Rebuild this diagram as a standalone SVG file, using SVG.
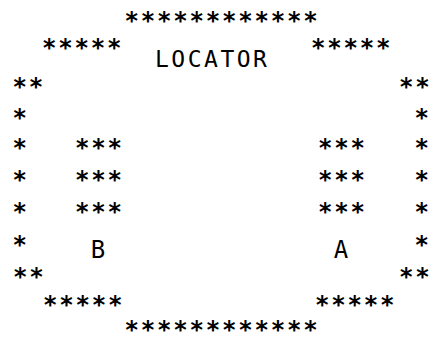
<svg xmlns="http://www.w3.org/2000/svg" width="433" height="344" viewBox="0 0 433 344">
<style>
text{font-family:"DejaVu Sans Mono","Liberation Mono",monospace;fill:#000}
.s{font-size:24px;font-weight:bold;letter-spacing:1.8px}
.t{font-size:23px;letter-spacing:2.5px}
.l{font-size:24px;text-anchor:middle}
</style>
<rect width="433" height="344" fill="#fff"/>
<g id="frame">
<text class="s" x="124.4" y="29">************</text>
<text class="s" x="41.9" y="56">*****</text>
<text class="s" x="310.9" y="56">*****</text>
<text class="s" x="12.4" y="95">**</text>
<text class="s" x="398.9" y="95">**</text>
<text class="s" x="12.4" y="126">*</text>
<text class="s" x="414.4" y="126">*</text>
<text class="s" x="12.4" y="156">*</text>
<text class="s" x="414.4" y="156">*</text>
<text class="s" x="12.4" y="188">*</text>
<text class="s" x="414.4" y="188">*</text>
<text class="s" x="12.4" y="220">*</text>
<text class="s" x="414.4" y="220">*</text>
<text class="s" x="12.4" y="253">*</text>
<text class="s" x="414.4" y="253">*</text>
<text class="s" x="12.9" y="285">**</text>
<text class="s" x="398.9" y="285">**</text>
<text class="s" x="42.9" y="313">*****</text>
<text class="s" x="314.9" y="313">*****</text>
<text class="s" x="124.4" y="338">************</text>
</g>
<g id="title"><text class="t" x="155" y="67">LOCATOR</text></g>
<g id="B">
<text class="s" x="74.9" y="156">***</text>
<text class="s" x="74.9" y="188">***</text>
<text class="s" x="74.9" y="220">***</text>
<text class="l" x="98" y="258">B</text>
</g>
<g id="A">
<text class="s" x="317.9" y="156">***</text>
<text class="s" x="317.9" y="188">***</text>
<text class="s" x="317.9" y="220">***</text>
<text class="l" x="341" y="258">A</text>
</g>
</svg>
